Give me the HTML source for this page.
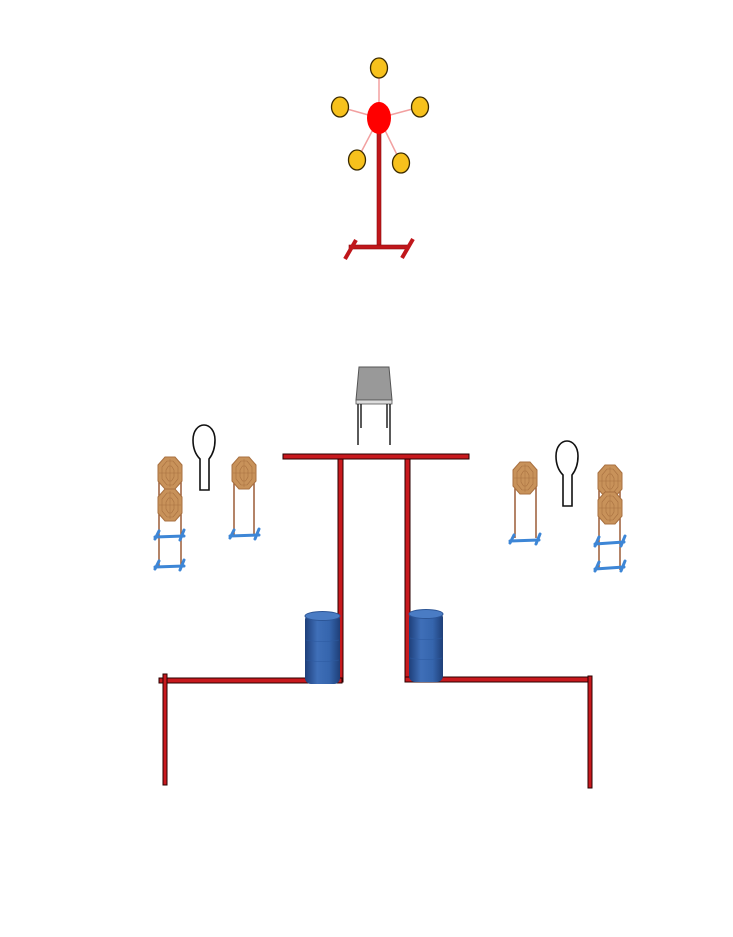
<!DOCTYPE html>
<html><head><style>html,body{margin:0;padding:0;background:#fff}svg{display:block}</style></head>
<body>
<svg width="733" height="937" viewBox="0 0 733 937" xmlns="http://www.w3.org/2000/svg">
<defs>
<linearGradient id="bar" x1="0" x2="1">
<stop offset="0" stop-color="#1e3f7a"/><stop offset="0.35" stop-color="#3f6fb8"/><stop offset="0.7" stop-color="#3565ad"/><stop offset="1" stop-color="#1f3f78"/>
</linearGradient>
<g id="tgt">
<path d="M7,0 L17,0 L24,8 L24,24 L17,32 L7,32 L0,24 L0,8 Z" fill="#c8925a" stroke="#a87040" stroke-width="1"/>
<path d="M9,4 L15,4 L20,10 L20,22 L15,28 L9,28 L4,22 L4,10 Z" fill="none" stroke="#a87040" stroke-width="0.6"/>
<path d="M10.5,9 L13.5,9 L16,13 L16,20 L13.5,24 L10.5,24 L8,20 L8,13 Z" fill="none" stroke="#a87040" stroke-width="0.6"/>
<line x1="12" y1="2" x2="12" y2="30" stroke="#a87040" stroke-width="0.5"/>
<line x1="1" y1="16" x2="23" y2="16" stroke="#a87040" stroke-width="0.5"/>
</g>
<g id="popper">
<path d="M6,65 L6,34 C1,29 -1,22 -1,15 C-1,6 4,0 10,0 C16,0 21,6 21,15 C21,22 19,29 15,34 L15,65 Z" fill="#fff" stroke="#111" stroke-width="1.6"/>
</g>
</defs>

<!-- top steel target -->
<g stroke="#f2a0a0" stroke-width="1.5">
<line x1="379" y1="118" x2="379" y2="68"/><line x1="379" y1="118" x2="340" y2="107"/>
<line x1="379" y1="118" x2="420" y2="107"/><line x1="379" y1="118" x2="357" y2="160"/>
<line x1="379" y1="118" x2="401" y2="163"/>
</g>
<rect x="377" y="128" width="4" height="120" fill="#c0171b" stroke="#8a0b0e" stroke-width="0.6"/>
<rect x="349" y="245" width="60" height="4" fill="#c0171b" stroke="#8a0b0e" stroke-width="0.6"/>
<line x1="356" y1="240" x2="345" y2="259" stroke="#c0171b" stroke-width="4"/>
<line x1="413" y1="239" x2="402" y2="258" stroke="#c0171b" stroke-width="4"/>
<ellipse cx="379" cy="118" rx="12" ry="16" fill="#f00"/>
<g fill="#f7c11c" stroke="#3a2a00" stroke-width="1.3">
<ellipse cx="379" cy="68" rx="8.5" ry="10"/><ellipse cx="340" cy="107" rx="8.5" ry="10"/>
<ellipse cx="420" cy="107" rx="8.5" ry="10"/><ellipse cx="357" cy="160" rx="8.5" ry="10"/>
<ellipse cx="401" cy="163" rx="8.5" ry="10"/>
</g>

<!-- chair -->
<path d="M359,367 L389,367 L392,400 L356,400 Z" fill="#999" stroke="#555" stroke-width="1"/>
<rect x="356" y="400" width="36" height="4" fill="#ddd" stroke="#555" stroke-width="0.8"/>
<g stroke="#222" stroke-width="1.5"><line x1="358" y1="404" x2="358" y2="445"/><line x1="390" y1="404" x2="390" y2="445"/><line x1="361" y1="404" x2="361" y2="428"/><line x1="387" y1="404" x2="387" y2="428"/></g>

<!-- walls -->
<g fill="#c8191e" stroke="#2a0000" stroke-width="1">
<rect x="283" y="454" width="186" height="5"/>
<rect x="338" y="459" width="5" height="223"/>
<rect x="405" y="459" width="5" height="222"/>
<rect x="159" y="678" width="183" height="5"/>
<rect x="163" y="674" width="4" height="111"/>
<rect x="405" y="677" width="187" height="5"/>
<rect x="588" y="676" width="4" height="112"/>
</g>

<!-- barrels -->
<g>
<rect x="305" y="614" width="35" height="70" rx="6" fill="url(#bar)"/>
<ellipse cx="322.5" cy="616" rx="17.5" ry="4.5" fill="#4a7cc4" stroke="#2c5596" stroke-width="1"/>
<rect x="409" y="612" width="34" height="70" rx="6" fill="url(#bar)"/>
<ellipse cx="426" cy="614" rx="17" ry="4.5" fill="#4a7cc4" stroke="#2c5596" stroke-width="1"/>
<g stroke="#2d5aa0" stroke-width="0.6" fill="none">
<path d="M306,640 Q322,643 339,640"/><path d="M306,660 Q322,663 339,660"/>
<path d="M410,638 Q426,641 442,638"/><path d="M410,658 Q426,661 442,658"/>
</g>
</g>

<!-- left targets -->
<g stroke="#9a5a35" stroke-width="1.5"><line x1="159" y1="470" x2="159" y2="567"/><line x1="181" y1="470" x2="181" y2="567"/>
<line x1="234" y1="470" x2="234" y2="535"/><line x1="254" y1="470" x2="254" y2="535"/></g>
<use href="#tgt" x="158" y="457"/>
<use href="#tgt" x="158" y="489"/>
<use href="#tgt" x="232" y="457"/>
<use href="#popper" x="194" y="425"/>
<g stroke="#3d86d6" stroke-width="3" stroke-linecap="round">
<line x1="155" y1="537" x2="184" y2="536"/><line x1="159" y1="531" x2="155" y2="539"/><line x1="184" y1="530" x2="180" y2="540"/>
<line x1="155" y1="567" x2="184" y2="566"/><line x1="159" y1="561" x2="155" y2="569"/><line x1="184" y1="560" x2="180" y2="570"/>
<line x1="230" y1="536" x2="259" y2="535"/><line x1="234" y1="530" x2="230" y2="538"/><line x1="259" y1="529" x2="255" y2="539"/>
</g>

<!-- right targets -->
<g stroke="#9a5a35" stroke-width="1.5"><line x1="515" y1="475" x2="515" y2="538"/><line x1="536" y1="475" x2="536" y2="538"/>
<line x1="599" y1="478" x2="599" y2="570"/><line x1="620" y1="478" x2="620" y2="570"/></g>
<use href="#tgt" x="513" y="462"/>
<use href="#tgt" x="598" y="465"/>
<use href="#tgt" x="598" y="492"/>
<use href="#popper" x="557" y="441"/>
<g stroke="#3d86d6" stroke-width="3" stroke-linecap="round">
<line x1="510" y1="541" x2="539" y2="540"/><line x1="514" y1="535" x2="510" y2="543"/><line x1="540" y1="534" x2="536" y2="544"/>
<line x1="595" y1="544" x2="624" y2="542"/><line x1="599" y1="537" x2="595" y2="546"/><line x1="625" y1="536" x2="621" y2="546"/>
<line x1="595" y1="569" x2="624" y2="567"/><line x1="599" y1="562" x2="595" y2="571"/><line x1="625" y1="561" x2="621" y2="571"/>
</g>
</svg>
</body></html>
